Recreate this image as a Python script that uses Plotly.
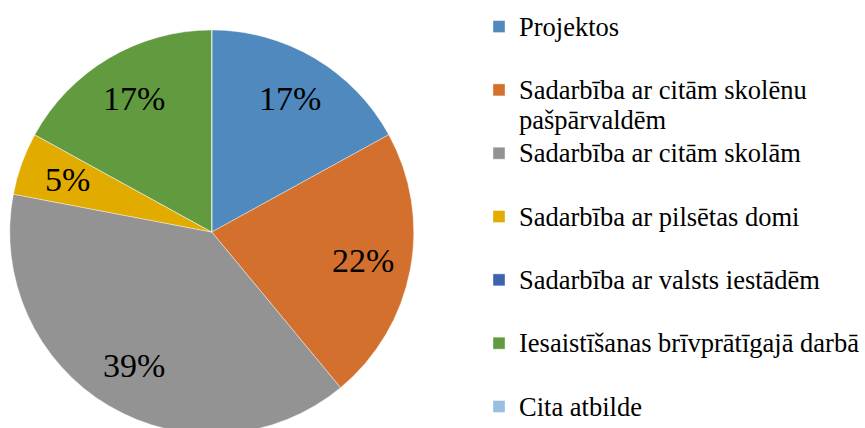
import math
import plotly.graph_objects as go

categories = [
    "Projektos",
    "Sadarbība ar citām skolēnu pašpārvaldēm",
    "Sadarbība ar citām skolām",
    "Sadarbība ar pilsētas domi",
    "Sadarbība ar valsts iestādēm",
    "Iesaistīšanas brīvprātīgajā darbā",
    "Cita atbilde",
]
values = [17, 22, 39, 5, 0, 17, 0]
colors = ["#4F89BD", "#D3702D", "#939393", "#E2AB00", "#3D63AE", "#619A3F", "#9ABDE0"]
legend_lines = [
    ["Projektos"],
    ["Sadarbība ar citām skolēnu", "pašpārvaldēm"],
    ["Sadarbība ar citām skolām"],
    ["Sadarbība ar pilsētas domi"],
    ["Sadarbība ar valsts iestādēm"],
    ["Iesaistīšanas brīvprātīgajā darbā"],
    ["Cita atbilde"],
]

W, H = 865, 470
MT, MB = 30, 36
PH = H - MT - MB
SERIF = "Liberation Serif"
TXT = 26.5
LEG = 23.2


def leg_label(lines):
    ls = list(lines) + ["\u00a0"] * (2 - len(lines))
    return "<br>".join('<span style="font-size:%.1fpx">%s</span>' % (TXT, s) for s in ls)


labels = [leg_label(l) for l in legend_lines]

dom_w = 426
fig = go.Figure(
    go.Pie(
        labels=labels,
        values=values,
        marker=dict(colors=colors, line=dict(color="white", width=0.4)),
        sort=False,
        direction="clockwise",
        rotation=0,
        textinfo="none",
        hoverinfo="label+percent",
        domain=dict(x=[0, dom_w / W], y=[0, 1]),
    )
)

# percentage labels placed at slice mid-angles
R = min(dom_w, PH) / 2
cx, cy = dom_w / 2, MT + PH / 2
total = sum(values)
cum = 0
for v in values:
    if v > 0:
        th = 2 * math.pi * (cum + v / 2) / total
        px = cx + 0.765 * R * math.sin(th)
        py = cy - 0.765 * R * math.cos(th)
        fig.add_annotation(
            x=px / W, y=1 - (py - MT) / PH, xref="paper", yref="paper",
            text="%d%%" % round(100 * v / total), showarrow=False,
            font=dict(family=SERIF, size=34, color="black"),
            xanchor="center", yanchor="middle",
        )
    cum += v

fig.update_layout(
    width=W, height=H,
    margin=dict(l=0, r=0, t=MT, b=MB),
    paper_bgcolor="white",
    plot_bgcolor="white",
    font=dict(family=SERIF),
    showlegend=True,
    legend=dict(
        x=482 / W, xanchor="left",
        y=1 + (MT - 5) / PH, yanchor="top",
        font=dict(family=SERIF, size=LEG, color="black"),
        valign="top",
        bgcolor="rgba(0,0,0,0)",
        maxheight=H,
        itemclick=False, itemdoubleclick=False,
    ),
)

fig.write_html(
    "out.html",
    config={"displayModeBar": False},
    post_script="document.body.style.margin='0';document.body.style.overflow='hidden';",
)
